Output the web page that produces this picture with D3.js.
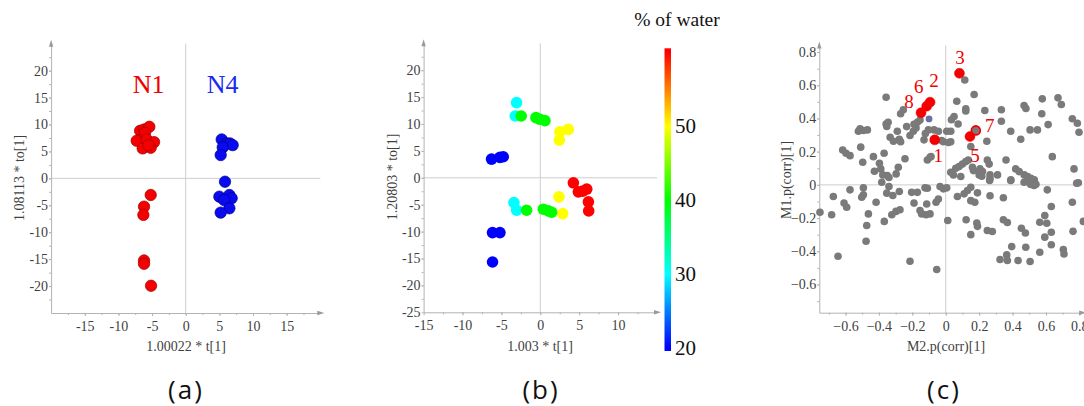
<!DOCTYPE html>
<html>
<head>
<meta charset="utf-8">
<script src="https://cdn.jsdelivr.net/npm/d3@7"></script>
<style>
  html, body { margin: 0; padding: 0; background: #fff; }
  svg { display: block; }
</style>
</head>
<body>
<div id="chart"></div>
<script>
// ---- data ----

// (a) score plot, two groups
var groupNames = ['N1', 'N4'];
var scoresN1 = [
  [-6.78, 8.83], [-6.19, 9.07], [-5.4, 9.57], [-6.04, 8.46], [-6.68, 7.1], [-7.28, 6.98],
  [-5.79, 7.22], [-4.7, 6.73], [-6.39, 5.56], [-5.2, 5.68], [-5.54, 6.17],
  [-5.2, -3.09], [-6.19, -5.25], [-6.29, -6.79], [-6.19, -15.25], [-6.19, -15.86], [-5.15, -19.94]
];
var scoresN4 = [
  [5.35, 7.22], [6.09, 6.48], [6.58, 6.48], [6.98, 6.17], [5.5, 5.74], [5.2, 4.32],
  [5.84, -0.62], [5.0, -3.4], [6.49, -3.09], [6.83, -3.7], [5.69, -4.01], [6.49, -5.56], [5.2, -6.36]
];

// (b) score plot coloured by % of water : [t, to, water]
var scoresWater = [
  [-3.05, 13.98, 30], [-3.22, 11.49, 30],
  [-2.45, 11.49, 40], [-0.56, 11.18, 40], [-0.04, 10.87, 40], [0.6, 10.62, 40],
  [2.53, 8.57, 50], [3.6, 9.0, 50], [2.45, 7.02, 50],
  [-6.27, 3.48, 20], [-5.19, 3.79, 20], [-4.76, 3.91, 20],
  [4.25, -0.93, 60], [4.89, -2.61, 60], [5.45, -2.48, 60], [5.97, -2.11, 60], [6.18, -4.47, 60], [6.22, -6.15, 60],
  [2.4, -3.54, 50], [2.88, -6.65, 50],
  [-3.39, -4.6, 30], [-3.05, -6.02, 30],
  [-1.76, -6.02, 40], [0.39, -5.84, 40], [1.03, -6.15, 40], [1.46, -6.4, 40],
  [-6.14, -10.19, 20], [-5.19, -10.19, 20], [-6.14, -15.65, 20]
];
var waterTicks = [20, 30, 40, 50];
var waterStops = [20, 30, 40, 50, 60];
var waterColors = ['#0000ff', '#00ffff', '#00ff00', '#ffff00', '#ff0000'];

// (c) loadings M2.p(corr) vs M1.p(corr)
var loadings = [
  [-0.617,0.21],[-0.597,0.19],[-0.573,0.176],[-0.523,0.323],[-0.513,0.337],[-0.493,0.327],[-0.469,0.331],
  [-0.509,0.227],[-0.497,0.136],[-0.433,0.17],[-0.397,0.13],[-0.389,0.096],[-0.427,0.082],[-0.377,0.06],
  [-0.35,0.056],[-0.34,0.044],[-0.357,0.528],[-0.357,0.367],[-0.345,0.377],[-0.353,0.352],[-0.333,0.287],
  [-0.313,0.263],[-0.369,0.19],[-0.284,0.106],[-0.297,0.066],[-0.29,0.323],[-0.278,0.275],[-0.27,0.26],
  [-0.27,0.428],[-0.254,0.452],[-0.234,0.351],[-0.244,0.157],[-0.214,0.297],[-0.194,0.323],[-0.178,0.343],
  [-0.17,0.377],[-0.154,0.39],[-0.19,0.365],[-0.13,0.271],[-0.122,0.309],[-0.104,0.331],[-0.094,0.166],
  [-0.11,0.15],[-0.088,0.171],[-0.07,0.331],[-0.044,0.323],[-0.024,0.267],[-0.014,0.26],[0.016,0.255],
  [0.006,0.323],
  [0.114,0.632],[0.17,0.544],[0.066,0.504],[0.12,0.458],[0.12,0.445],[0.05,0.411],[0.034,0.392],[0.074,0.367],
  [0.03,0.323],[0.03,0.26],[0.234,0.448],[0.333,0.452],[0.333,0.383],[0.246,0.263],[0.389,0.323],[0.469,0.478],
  [0.48,0.46],[0.449,0.275],[0.505,0.331],[0.549,0.331],[0.578,0.518],[0.575,0.428],[0.613,0.363],[0.672,0.524],
  [0.692,0.484],[0.758,0.398],[0.788,0.371],[0.798,0.317],[0.638,0.17],[0.768,0.096],[0.794,0.012],[0.15,0.231],
  [0.18,0.327],[0.249,0.15],[0.26,0.125],[0.361,0.15],[0.06,0.1],[0.08,0.11],[0.1,0.125],[0.12,0.14],[0.135,0.15],
  [0.03,0.076],[0.046,0.06],[0.09,0.05],[0.16,0.106],[0.166,0.086],[0.205,0.096],[0.22,0.08],[0.2,0.06],
  [0.216,0.052],[0.265,0.06],[0.265,0.038],[0.31,0.06],[0.39,0.03],[0.419,0.096],[0.44,0.08],[0.47,0.06],
  [0.49,0.05],[0.51,0.04],[0.53,0.03],[0.54,0.004],[0.5,0.014],
  [-0.753,-0.165],[-0.673,-0.07],[-0.683,-0.18],[-0.645,-0.43],[-0.609,-0.11],[-0.593,-0.135],[-0.573,-0.03],
  [-0.493,-0.018],[-0.503,-0.075],[-0.493,-0.06],[-0.463,-0.175],[-0.473,-0.245],[-0.477,-0.34],[-0.417,-0.105],
  [-0.383,0.016],[-0.34,-0.01],[-0.353,-0.05],[-0.317,-0.064],[-0.278,-0.04],[-0.368,-0.22],[-0.323,-0.18],
  [-0.298,-0.16],[-0.274,-0.15],[-0.214,-0.46],[-0.204,-0.045],[-0.17,-0.045],[-0.19,-0.11],[-0.154,-0.155],
  [-0.144,-0.175],[-0.114,-0.115],[-0.124,-0.018],[-0.11,-0.02],[-0.118,-0.18],[-0.094,-0.175],[-0.058,-0.105],
  [-0.044,-0.085],[-0.034,-0.01],[-0.014,-0.024],[-0.054,-0.51],
  [0.006,-0.018],[0.07,-0.07],[0.11,-0.054],[0.13,-0.034],[0.15,-0.014],[0.19,-0.048],[0.15,-0.095],[0.174,-0.105],
  [0.265,-0.066],[0.345,-0.078],[0.263,0.026],[0.389,0.026],[0.469,0.016],[0.509,0.002],[0.529,-0.004],
  [0.608,-0.03],[0.784,0.01],[0.632,-0.13],[0.758,-0.105],[0.012,-0.215],[0.122,-0.21],[0.186,-0.23],[0.19,-0.25],
  [0.15,-0.3],[0.249,-0.275],[0.279,-0.281],[0.345,-0.21],[0.369,-0.227],[0.453,-0.261],[0.477,-0.29],
  [0.395,-0.372],[0.479,-0.376],[0.325,-0.45],[0.365,-0.422],[0.369,-0.456],[0.433,-0.456],[0.505,-0.462],
  [0.563,-0.406],[0.563,-0.225],[0.593,-0.185],[0.605,-0.231],[0.593,-0.315],[0.632,-0.285],[0.632,-0.361],
  [0.704,-0.39],[0.708,-0.416],[0.762,-0.28],[0.824,-0.22]
];
var markedLabels = ['1', '2', '6', '8', '3', '5', '7'];
var markedX = [-0.066, -0.094, -0.114, -0.148, 0.082, 0.145, 0.18];
var markedY = [0.271, 0.498, 0.474, 0.434, 0.672, 0.291, 0.328];
var markedRing = ['7'];
var blueMark = [-0.1, 0.397];

var ticksA = [-15, -10, -5, 0, 5, 10, 15];
var ticksAy = [-20, -15, -10, -5, 0, 5, 10, 15, 20];
var ticksBx = [-15, -10, -5, 0, 5, 10];
var ticksBy = [-25, -20, -15, -10, -5, 0, 5, 10, 15, 20];
var ticksC = [-0.6, -0.4, -0.2, 0, 0.2, 0.4, 0.6, 0.8];

// ---- layout ----
var width = 1084, height = 406;
var serif = '"Liberation Serif", "Times New Roman", serif';
var axisGrey = '#b3b3b3';

var svg = d3.select('#chart').append('svg')
  .attr('width', width).attr('height', height)
  .attr('viewBox', '0 0 ' + width + ' ' + height);

// draws zero lines, axes with arrows, ticks and labels for one panel
function frame(g, x, y, xt, yt, xm, ym, fmt) {
  var x0 = x.range()[0], x1 = x.range()[1], yb = y.range()[0], yt0 = y.range()[1];
  g.append('line').attr('x1', x(0)).attr('x2', x(0)).attr('y1', yt0).attr('y2', yb)
    .attr('stroke', '#cdcdcd');
  g.append('line').attr('x1', x0).attr('x2', x1).attr('y1', y(0)).attr('y2', y(0))
    .attr('stroke', '#cdcdcd');

  // minor ticks
  g.append('g').attr('transform', 'translate(0,' + yb + ')')
    .call(d3.axisBottom(x).tickValues(xm).tickSize(2).tickFormat(''))
    .call(function(s){ s.select('.domain').remove(); s.selectAll('line').attr('stroke', axisGrey); });
  g.append('g').attr('transform', 'translate(' + x0 + ',0)')
    .call(d3.axisLeft(y).tickValues(ym).tickSize(2).tickFormat(''))
    .call(function(s){ s.select('.domain').remove(); s.selectAll('line').attr('stroke', axisGrey); });

  var ax = g.append('g').attr('transform', 'translate(0,' + yb + ')')
    .call(d3.axisBottom(x).tickValues(xt).tickSize(3).tickSizeOuter(0).tickPadding(5).tickFormat(fmt));
  var ay = g.append('g').attr('transform', 'translate(' + x0 + ',0)')
    .call(d3.axisLeft(y).tickValues(yt).tickSize(2).tickSizeOuter(0).tickPadding(1).tickFormat(fmt));
  [ax, ay].forEach(function(a){
    a.select('.domain').attr('stroke', axisGrey);
    a.selectAll('.tick line').attr('stroke', axisGrey);
    a.selectAll('text').attr('fill', '#3f3f3f')
      .style('font-family', serif).style('font-size', '14px');
  });

  // arrow heads
  g.append('path').attr('d', 'M' + (x1 + 4) + ',' + yb + 'l-7,-2.2v4.4z').attr('fill', '#9a9a9a');
  g.append('path').attr('d', 'M' + x0 + ',' + (yt0 - 4) + 'l-2.2,7h4.4z').attr('fill', '#9a9a9a');
}

function titles(g, cx, yx, cy, xt, ytxt) {
  g.append('text').attr('x', cx).attr('y', 351).attr('text-anchor', 'middle')
    .attr('fill', '#3f3f3f').style('font-family', serif).style('font-size', '14px').text(xt);
  g.append('text').attr('transform', 'translate(' + yx + ',' + cy + ') rotate(-90)')
    .attr('text-anchor', 'middle').attr('dy', '0.35em')
    .attr('fill', '#3f3f3f').style('font-family', serif).style('font-size', '14px').text(ytxt);
}

var fmtInt = function(d){ return d; };
var fmtDec = function(d){ return d === 0 ? '0' : d3.format('.1f')(d); };

// ---------- (a) ----------
var ga = svg.append('g');
var xa = d3.scaleLinear().domain([-20, 20]).range([51.1, 320.3]);
var ya = d3.scaleLinear().domain([-25, 25]).range([313, 43.7]);
frame(ga, xa, ya, ticksA, ticksAy, d3.range(-17.5, 19, 2.5), d3.range(-22.5, 24, 2.5), fmtInt);
titles(ga, 186, 19, 178, '1.00022 * t[1]', '1.08113 * to[1]');

ga.selectAll('circle.n1').data(scoresN1).enter().append('circle')
  .attr('class', 'n1').attr('cx', function(d){ return xa(d[0]); }).attr('cy', function(d){ return ya(d[1]); })
  .attr('r', 5.7).attr('fill', '#f40000').attr('stroke', '#a00000').attr('stroke-width', 0.7);
ga.selectAll('circle.n4').data(scoresN4).enter().append('circle')
  .attr('class', 'n4').attr('cx', function(d){ return xa(d[0]); }).attr('cy', function(d){ return ya(d[1]); })
  .attr('r', 5.7).attr('fill', '#0a0af0').attr('stroke', '#00008a').attr('stroke-width', 0.7);

ga.selectAll('text.grp').data(groupNames).enter().append('text')
  .attr('class', 'grp')
  .attr('x', function(d, i){ return xa(i === 0 ? -5.5 : 5.5); })
  .attr('y', ya(15.8))
  .attr('text-anchor', 'middle')
  .attr('fill', function(d, i){ return i === 0 ? '#f00000' : '#1a2bf0'; })
  .style('font-family', serif).style('font-size', '26px')
  .text(function(d){ return d; });

// ---------- (b) ----------
var gb = svg.append('g');
var xb = d3.scaleLinear().domain([-15, 15]).range([423.6, 657]);
var yb = d3.scaleLinear().domain([-25, 25]).range([312.3, 43.3]);
var water = d3.scaleLinear().domain(waterStops).range(waterColors);
frame(gb, xb, yb, ticksBx, ticksBy, d3.range(-12.5, 15, 2.5), d3.range(-22.5, 24, 2.5), fmtInt);
titles(gb, 540, 392, 177, '1.003 * t[1]', '1.20803 * to[1]');

gb.selectAll('circle').data(scoresWater).enter().append('circle')
  .attr('cx', function(d){ return xb(d[0]); }).attr('cy', function(d){ return yb(d[1]); })
  .attr('r', 5.8).attr('fill', function(d){ return water(d[2]); });

// colour bar
var cbY = d3.scaleLinear().domain([20, 60]).range([348, 52]);
var grad = svg.append('defs').append('linearGradient').attr('id', 'jet')
  .attr('x1', 0).attr('y1', 1).attr('x2', 0).attr('y2', 0);
grad.selectAll('stop').data(waterStops).enter().append('stop')
  .attr('offset', function(d){ return (d - 19.6) / (60.5 - 19.6); })
  .attr('stop-color', function(d){ return water(d); });
svg.append('rect').attr('x', 664.5).attr('width', 6.5)
  .attr('y', cbY(60.5)).attr('height', cbY(19.6) - cbY(60.5))
  .attr('fill', 'url(#jet)');
svg.append('g').attr('transform', 'translate(671,0)')
  .call(d3.axisRight(cbY).tickValues(waterTicks).tickSize(0).tickPadding(4))
  .call(function(s){
    s.select('.domain').remove();
    s.selectAll('text').attr('fill', '#111').style('font-family', serif).style('font-size', '21px');
  });
svg.append('text').attr('x', 677).attr('y', 26).attr('text-anchor', 'middle')
  .attr('fill', '#111').style('font-family', serif).style('font-size', '19.5px').text('% of water');

// ---------- (c) ----------
var gc = svg.append('g');
var xc = d3.scaleLinear().domain([-0.757, 0.817]).range([819.3, 1082.2]);
var yc = d3.scaleLinear().domain([-0.77, 0.84]).range([312.7, 45.4]);
frame(gc, xc, yc, ticksC, ticksC, d3.range(-0.7, 0.85, 0.1), d3.range(-0.7, 0.85, 0.1), fmtDec);
titles(gc, 946, 786, 180, 'M2.p(corr)[1]', 'M1.p(corr)[1]');

gc.selectAll('circle.ld').data(loadings).enter().append('circle')
  .attr('class', 'ld').attr('cx', function(d){ return xc(d[0]); }).attr('cy', function(d){ return yc(d[1]); })
  .attr('r', 3.8).attr('fill', '#7a7a7a');

gc.append('circle').attr('cx', xc(blueMark[0])).attr('cy', yc(blueMark[1]))
  .attr('r', 3.4).attr('fill', '#6a6fa8');

var labelOffset = { '1': [3.6, 15], '2': [4, -22], '6': [-8, -19.5], '8': [-12, -11], '3': [0.6, -16], '5': [5, 18.5], '7': [14, -5] };
gc.selectAll('circle.mk').data(markedLabels).enter().append('circle')
  .attr('class', 'mk')
  .attr('cx', function(d, i){ return xc(markedX[i]); })
  .attr('cy', function(d, i){ return yc(markedY[i]); })
  .attr('r', function(d){ return markedRing.indexOf(d) >= 0 ? 4.4 : 5; })
  .attr('fill', function(d){ return markedRing.indexOf(d) >= 0 ? 'none' : '#f50000'; })
  .attr('stroke', '#f00000')
  .attr('stroke-width', function(d){ return markedRing.indexOf(d) >= 0 ? 1.8 : 0.5; });
gc.selectAll('text.mk').data(markedLabels).enter().append('text')
  .attr('class', 'mk')
  .attr('x', function(d, i){ return xc(markedX[i]) + labelOffset[d][0]; })
  .attr('y', function(d, i){ return yc(markedY[i]) + labelOffset[d][1]; })
  .attr('dy', '0.35em').attr('text-anchor', 'middle')
  .attr('fill', '#f00000').style('font-family', serif).style('font-size', '19px')
  .text(function(d){ return d; });

// ---------- panel letters ----------
var letters = ['(a)', '(b)', '(c)'];
var letterX = [186, 541, 944];
svg.selectAll('text.letter').data(letters).enter().append('text')
  .attr('class', 'letter')
  .attr('x', function(d, i){ return letterX[i]; }).attr('y', 399)
  .attr('text-anchor', 'middle').attr('fill', '#111')
  .style('font-family', '"Open Sans", sans-serif').style('font-size', '26px')
  .style('letter-spacing', '2px')
  .text(function(d){ return d; });
</script>
</body>
</html>
